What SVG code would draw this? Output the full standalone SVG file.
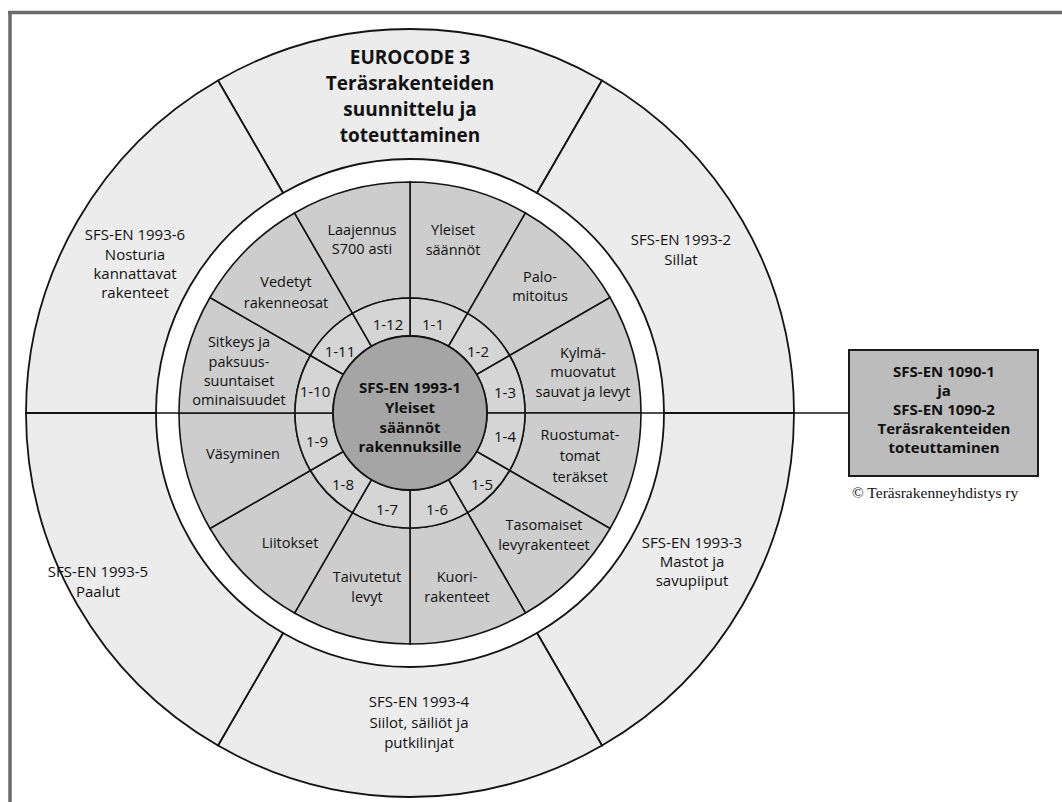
<svg xmlns="http://www.w3.org/2000/svg" width="1062" height="802" viewBox="0 0 1062 802">
<style>
  .band { fill: #ececec; stroke: #141414; stroke-width: 1.8; }
  .wedge { fill: #cdcdcd; stroke: #141414; stroke-width: 1.6; }
  .cell { fill: #d5d5d5; stroke: #141414; stroke-width: 1.6; }
  .hub { fill: #a5a5a5; stroke: #141414; stroke-width: 1.8; }
  .box { fill: #bcbcbc; stroke: #1a1a1a; stroke-width: 2; }
  .frame { stroke: #6a6a6a; stroke-width: 3.5; fill: none; }
  .ln { stroke: #141414; stroke-width: 1.6; fill: none; }
  text { font-family: "Open Sans", "Noto Sans", "DejaVu Sans", sans-serif; fill: #111; text-anchor: middle; }
  .t { font-size: 14.5px; }
  .o { font-size: 15px; }
  .n { font-size: 15px; }
  .b { font-size: 15px; font-weight: bold; }
  .title { font-size: 19px; font-weight: bold; }
  .copy { font-family: "Liberation Serif", "Times New Roman", serif; font-size: 15.5px; text-anchor: start; }
</style>

<g id="frame">
  <path class="frame" d="M 8 12.5 H 1062 M 10 12.5 V 802"/>
</g>

<g id="eurocode-3">
  <path class="band" d="M 602 80.446 A 384 384 0 0 0 218 80.446 L 283 193.030 A 254 254 0 0 1 537 193.030 Z"/>
  <text class="title" x="410" y="64">EUROCODE 3</text>
  <text class="title" x="410" y="90">Teräsrakenteiden</text>
  <text class="title" x="410" y="116">suunnittelu ja</text>
  <text class="title" x="410" y="142">toteuttaminen</text>
</g>

<g id="en-1993-2">
  <path class="band" d="M 794 413 A 384 384 0 0 0 602 80.446 L 537 193.030 A 254 254 0 0 1 664 413 Z"/>
  <text class="o" x="681" y="245">SFS-EN 1993-2</text>
  <text class="o" x="681" y="265">Sillat</text>
</g>

<g id="en-1993-3">
  <path class="band" d="M 602 745.554 A 384 384 0 0 0 794 413 L 664 413 A 254 254 0 0 1 537 632.970 Z"/>
  <text class="o" x="692" y="548">SFS-EN 1993-3</text>
  <text class="o" x="692" y="567">Mastot ja</text>
  <text class="o" x="692" y="586">savupiiput</text>
</g>

<g id="en-1993-4">
  <path class="band" d="M 218 745.554 A 384 384 0 0 0 602 745.554 L 537 632.970 A 254 254 0 0 1 283 632.970 Z"/>
  <text class="o" x="419" y="707">SFS-EN 1993-4</text>
  <text class="o" x="419" y="728">Siilot, säiliöt ja</text>
  <text class="o" x="419" y="748">putkilinjat</text>
</g>

<g id="en-1993-5">
  <path class="band" d="M 26 413 A 384 384 0 0 0 218 745.554 L 283 632.970 A 254 254 0 0 1 156 413 Z"/>
  <text class="o" x="98" y="577">SFS-EN 1993-5</text>
  <text class="o" x="98" y="597">Paalut</text>
</g>

<g id="en-1993-6">
  <path class="band" d="M 218 80.446 A 384 384 0 0 0 26 413 L 156 413 A 254 254 0 0 1 283 193.030 Z"/>
  <text class="o" x="135" y="240">SFS-EN 1993-6</text>
  <text class="o" x="135" y="260">Nosturia</text>
  <text class="o" x="135" y="279">kannattavat</text>
  <text class="o" x="135" y="298">rakenteet</text>
</g>

<g id="part-1-1">
  <path class="wedge" d="M 525.5 212.948 A 231 231 0 0 0 410 182 L 410 298 A 115 115 0 0 1 467.5 313.407 Z"/>
  <path class="cell" d="M 467.5 313.407 A 115 115 0 0 0 410 298 L 410 336 A 77 77 0 0 1 448.5 346.316 Z"/>
  <text class="t" x="453" y="235">Yleiset</text>
  <text class="t" x="453" y="255">säännöt</text>
  <text class="n" x="433" y="330">1-1</text>
</g>

<g id="part-1-2">
  <path class="wedge" d="M 610.052 297.5 A 231 231 0 0 0 525.5 212.948 L 467.5 313.407 A 115 115 0 0 1 509.593 355.5 Z"/>
  <path class="cell" d="M 509.593 355.5 A 115 115 0 0 0 467.5 313.407 L 448.5 346.316 A 77 77 0 0 1 476.684 374.5 Z"/>
  <text class="t" x="540" y="282">Palo-</text>
  <text class="t" x="540" y="301">mitoitus</text>
  <text class="n" x="478" y="357">1-2</text>
</g>

<g id="part-1-3">
  <path class="wedge" d="M 641 413 A 231 231 0 0 0 610.052 297.5 L 509.593 355.5 A 115 115 0 0 1 525 413 Z"/>
  <path class="cell" d="M 525 413 A 115 115 0 0 0 509.593 355.5 L 476.684 374.5 A 77 77 0 0 1 487 413 Z"/>
  <text class="t" x="583" y="358">Kylmä-</text>
  <text class="t" x="583" y="377">muovatut</text>
  <text class="t" x="583" y="397">sauvat ja levyt</text>
  <text class="n" x="505" y="398">1-3</text>
</g>

<g id="part-1-4">
  <path class="wedge" d="M 610.052 528.5 A 231 231 0 0 0 641 413 L 525 413 A 115 115 0 0 1 509.593 470.5 Z"/>
  <path class="cell" d="M 509.593 470.5 A 115 115 0 0 0 525 413 L 487 413 A 77 77 0 0 1 476.684 451.5 Z"/>
  <text class="t" x="580" y="440">Ruostumat-</text>
  <text class="t" x="580" y="461">tomat</text>
  <text class="t" x="580" y="482">teräkset</text>
  <text class="n" x="505" y="442">1-4</text>
</g>

<g id="part-1-5">
  <path class="wedge" d="M 525.5 613.052 A 231 231 0 0 0 610.052 528.5 L 509.593 470.5 A 115 115 0 0 1 467.5 512.593 Z"/>
  <path class="cell" d="M 467.5 512.593 A 115 115 0 0 0 509.593 470.5 L 476.684 451.5 A 77 77 0 0 1 448.5 479.684 Z"/>
  <text class="t" x="544" y="530">Tasomaiset</text>
  <text class="t" x="544" y="550">levyrakenteet</text>
  <text class="n" x="482" y="490">1-5</text>
</g>

<g id="part-1-6">
  <path class="wedge" d="M 410 644 A 231 231 0 0 0 525.5 613.052 L 467.5 512.593 A 115 115 0 0 1 410 528 Z"/>
  <path class="cell" d="M 410 528 A 115 115 0 0 0 467.5 512.593 L 448.5 479.684 A 77 77 0 0 1 410 490 Z"/>
  <text class="t" x="457" y="582">Kuori-</text>
  <text class="t" x="457" y="602">rakenteet</text>
  <text class="n" x="437" y="515">1-6</text>
</g>

<g id="part-1-7">
  <path class="wedge" d="M 294.5 613.052 A 231 231 0 0 0 410 644 L 410 528 A 115 115 0 0 1 352.5 512.593 Z"/>
  <path class="cell" d="M 352.5 512.593 A 115 115 0 0 0 410 528 L 410 490 A 77 77 0 0 1 371.5 479.684 Z"/>
  <text class="t" x="367" y="582">Taivutetut</text>
  <text class="t" x="367" y="602">levyt</text>
  <text class="n" x="387" y="515">1-7</text>
</g>

<g id="part-1-8">
  <path class="wedge" d="M 209.948 528.5 A 231 231 0 0 0 294.5 613.052 L 352.5 512.593 A 115 115 0 0 1 310.407 470.5 Z"/>
  <path class="cell" d="M 310.407 470.5 A 115 115 0 0 0 352.5 512.593 L 371.5 479.684 A 77 77 0 0 1 343.316 451.5 Z"/>
  <text class="t" x="290" y="548">Liitokset</text>
  <text class="n" x="343" y="490">1-8</text>
</g>

<g id="part-1-9">
  <path class="wedge" d="M 179 413 A 231 231 0 0 0 209.948 528.5 L 310.407 470.5 A 115 115 0 0 1 295 413 Z"/>
  <path class="cell" d="M 295 413 A 115 115 0 0 0 310.407 470.5 L 343.316 451.5 A 77 77 0 0 1 333 413 Z"/>
  <text class="t" x="243" y="459">Väsyminen</text>
  <text class="n" x="317" y="447">1-9</text>
</g>

<g id="part-1-10">
  <path class="wedge" d="M 209.948 297.5 A 231 231 0 0 0 179 413 L 295 413 A 115 115 0 0 1 310.407 355.5 Z"/>
  <path class="cell" d="M 310.407 355.5 A 115 115 0 0 0 295 413 L 333 413 A 77 77 0 0 1 343.316 374.5 Z"/>
  <text class="t" x="239" y="347">Sitkeys ja</text>
  <text class="t" x="239" y="367">paksuus-</text>
  <text class="t" x="239" y="386">suuntaiset</text>
  <text class="t" x="239" y="405">ominaisuudet</text>
  <text class="n" x="315" y="397">1-10</text>
</g>

<g id="part-1-11">
  <path class="wedge" d="M 294.5 212.948 A 231 231 0 0 0 209.948 297.5 L 310.407 355.5 A 115 115 0 0 1 352.5 313.407 Z"/>
  <path class="cell" d="M 352.5 313.407 A 115 115 0 0 0 310.407 355.5 L 343.316 374.5 A 77 77 0 0 1 371.5 346.316 Z"/>
  <text class="t" x="286" y="287">Vedetyt</text>
  <text class="t" x="286" y="308">rakenneosat</text>
  <text class="n" x="340" y="357">1-11</text>
</g>

<g id="part-1-12">
  <path class="wedge" d="M 410 182 A 231 231 0 0 0 294.5 212.948 L 352.5 313.407 A 115 115 0 0 1 410 298 Z"/>
  <path class="cell" d="M 410 298 A 115 115 0 0 0 352.5 313.407 L 371.5 346.316 A 77 77 0 0 1 410 336 Z"/>
  <text class="t" x="362" y="235">Laajennus</text>
  <text class="t" x="362" y="254">S700 asti</text>
  <text class="n" x="388" y="330">1-12</text>
</g>

<g id="en-1993-1">
  <circle class="hub" cx="410" cy="413" r="77"/>
  <text class="b" x="410" y="393">SFS-EN 1993-1</text>
  <text class="b" x="410" y="413">Yleiset</text>
  <text class="b" x="410" y="433">säännöt</text>
  <text class="b" x="410" y="452">rakennuksille</text>
</g>

<g id="en-1090">
  <rect class="box" x="849" y="350" width="189" height="126"/>
  <text class="b" x="944" y="377">SFS-EN 1090-1</text>
  <text class="b" x="944" y="396">ja</text>
  <text class="b" x="944" y="415">SFS-EN 1090-2</text>
  <text class="b" x="944" y="434">Teräsrakenteiden</text>
  <text class="b" x="944" y="453">toteuttaminen</text>
</g>

<g id="connectors">
  <path class="ln" d="M 641 413 H 664 M 156 413 H 179"/>
  <path class="ln" d="M 794 413 H 849"/>
</g>

<g id="copyright">
  <text class="copy" x="852" y="498">© Teräsrakenneyhdistys ry</text>
</g>
</svg>
